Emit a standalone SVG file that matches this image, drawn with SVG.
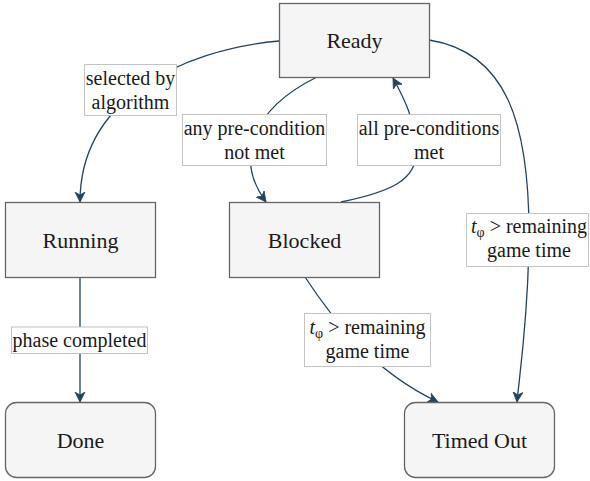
<svg xmlns="http://www.w3.org/2000/svg" width="590" height="481" viewBox="0 0 590 481">
  <style>
    .node { fill: #f5f5f5; stroke: #666666; stroke-width: 1.3; }
    .ntext { font-family: "Liberation Serif", "Times New Roman", serif; font-size: 22px; fill: #1a1a1a; text-anchor: middle; }
    .edge { fill: none; stroke: #23445d; stroke-width: 1.3; marker-end: url(#arrow); }
    .lbox { fill: #ffffff; stroke: #c4c4c4; stroke-width: 1; }
    .ltext { font-family: "Liberation Serif", "Times New Roman", serif; font-size: 20px; fill: #1a1a1a; text-anchor: middle; }
    .it { font-style: italic; }
  </style>
  <defs>
    <marker id="arrow" markerUnits="userSpaceOnUse" markerWidth="12" markerHeight="12" refX="10" refY="5" orient="auto" viewBox="0 0 12 10">
      <path d="M0,0 L10,5 L0,10 L3,5 Z" fill="#23445d" stroke="#23445d" stroke-width="0.8" stroke-linejoin="miter"/>
    </marker>
  </defs>

  <g id="connectors">
    <path class="edge" d="M279,41 C180,50 80,100 80,202"/>
    <path class="edge" d="M317,77 C250,110 235,160 266,202"/>
    <path class="edge" d="M341,202 C390,192 418,180 416,150 C415,120 405,100 393,78"/>
    <path class="edge" d="M429,40 C505,52 530,120 529,240 C528,320 520,370 517,402"/>
    <path class="edge" d="M305,277 C330,315 370,370 438,402"/>
    <path class="edge" d="M80,277 L80,402"/>

    <g id="label-selected">
      <rect class="lbox" x="84.5" y="64.5" width="92" height="51"/>
      <text class="ltext" x="130.5" y="85">selected by</text>
      <text class="ltext" x="130.5" y="109">algorithm</text>
    </g>
    <g id="label-any">
      <rect class="lbox" x="182.5" y="114.5" width="144" height="51"/>
      <text class="ltext" x="254.5" y="135">any pre-condition</text>
      <text class="ltext" x="254.5" y="159">not met</text>
    </g>
    <g id="label-all">
      <rect class="lbox" x="357.5" y="114.5" width="143" height="51"/>
      <text class="ltext" x="429" y="135">all pre-conditions</text>
      <text class="ltext" x="429" y="159">met</text>
    </g>
    <g id="label-timeout-right">
      <rect class="lbox" x="466.5" y="213.5" width="122" height="53"/>
      <text class="ltext" x="529" y="233"><tspan class="it">t</tspan><tspan font-size="14" dy="4">φ</tspan><tspan dy="-4"> &gt; remaining</tspan></text>
      <text class="ltext" x="529" y="257">game time</text>
    </g>
    <g id="label-timeout-mid">
      <rect class="lbox" x="304.5" y="313.5" width="126" height="53"/>
      <text class="ltext" x="367.5" y="334"><tspan class="it">t</tspan><tspan font-size="14" dy="4">φ</tspan><tspan dy="-4"> &gt; remaining</tspan></text>
      <text class="ltext" x="367.5" y="358">game time</text>
    </g>
    <g id="label-phase">
      <rect class="lbox" x="11.5" y="327" width="136" height="26.5"/>
      <text class="ltext" x="79.5" y="347">phase completed</text>
    </g>
  </g>

  <g id="ready">
    <rect class="node" x="279.5" y="3.5" width="150" height="74"/>
    <text class="ntext" x="354.5" y="48">Ready</text>
  </g>
  <g id="running">
    <rect class="node" x="5.5" y="202.5" width="150" height="75"/>
    <text class="ntext" x="80.5" y="247.5">Running</text>
  </g>
  <g id="blocked">
    <rect class="node" x="229.5" y="202.5" width="150" height="75"/>
    <text class="ntext" x="304.5" y="247.5">Blocked</text>
  </g>
  <g id="done">
    <rect class="node" x="5.5" y="402.5" width="150" height="75" rx="11" ry="11"/>
    <text class="ntext" x="80.5" y="447.5">Done</text>
  </g>
  <g id="timedout">
    <rect class="node" x="404.5" y="402.5" width="150" height="75" rx="11" ry="11"/>
    <text class="ntext" x="479.5" y="447.5">Timed Out</text>
  </g>
</svg>
